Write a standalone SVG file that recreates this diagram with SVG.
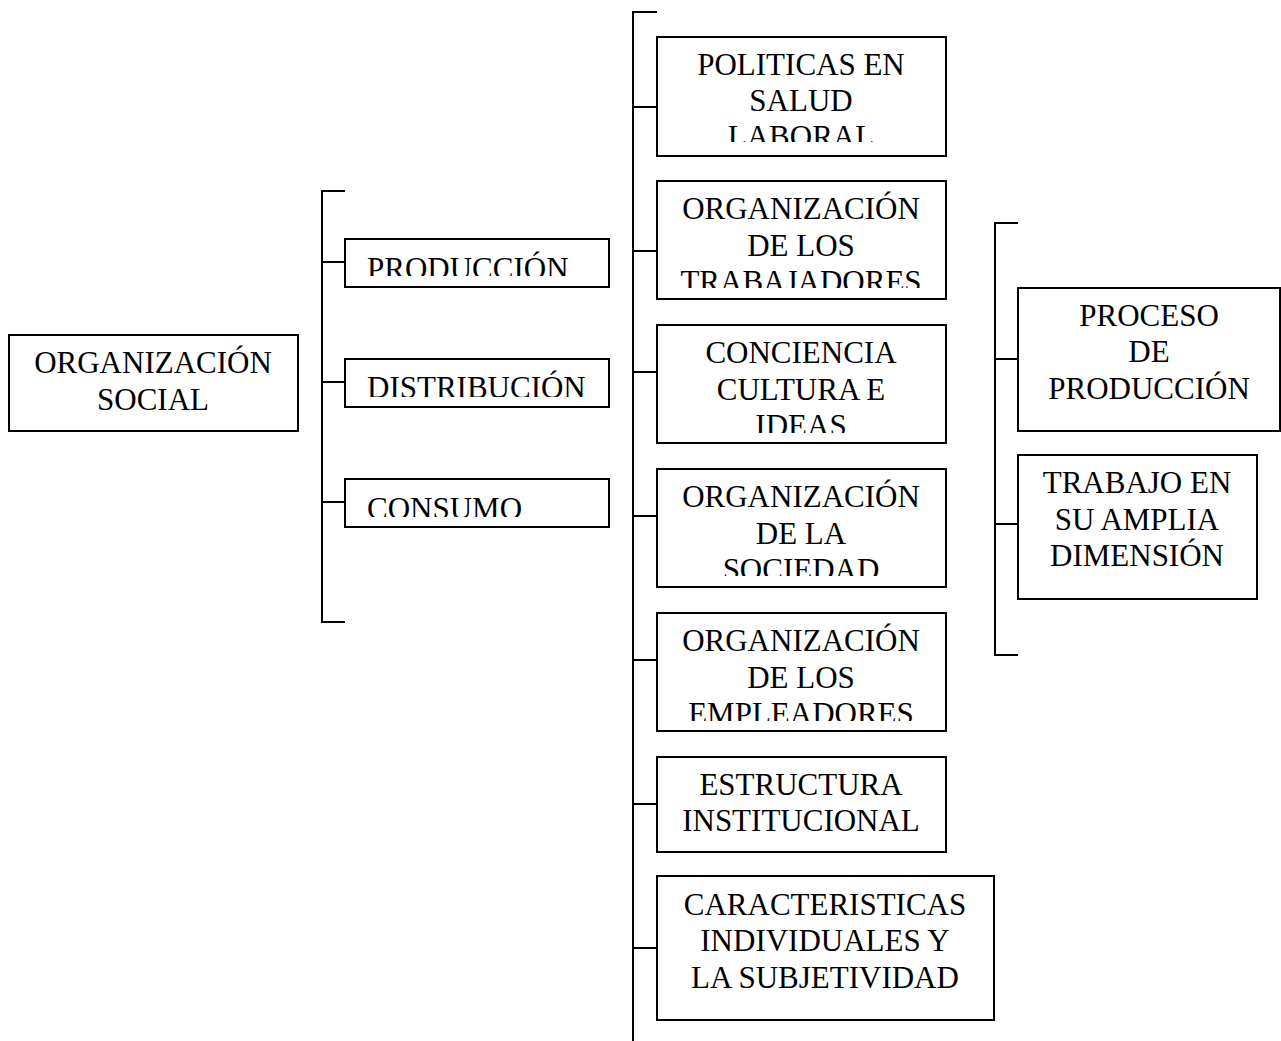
<svg xmlns="http://www.w3.org/2000/svg" width="1281" height="1041" viewBox="0 0 1281 1041">
<style>
.box{fill:#fff;stroke:#000;stroke-width:2}
.ln{fill:none;stroke:#000;stroke-width:2}
text{font-family:"Liberation Serif","Times New Roman",serif;font-size:31px;fill:#000}
.c{text-anchor:middle}
</style>
<defs>
<clipPath id="cp1"><rect x="657" y="37" width="289" height="105"/></clipPath>
<clipPath id="cp2"><rect x="657" y="181" width="289" height="107"/></clipPath>
<clipPath id="cp3"><rect x="657" y="325" width="289" height="108"/></clipPath>
<clipPath id="cp4"><rect x="657" y="469" width="289" height="107"/></clipPath>
<clipPath id="cp5"><rect x="657" y="613" width="289" height="108"/></clipPath>
<clipPath id="cpP"><rect x="345" y="239" width="264" height="37"/></clipPath>
<clipPath id="cpD"><rect x="345" y="359" width="264" height="38"/></clipPath>
<clipPath id="cpC"><rect x="345" y="479" width="264" height="38"/></clipPath>
</defs>
<rect width="1281" height="1041" fill="#fff"/>
<g id="connectors">
<path class="ln" d="M345 191H322V622H345M322 262H345M322 382H345M322 502H345"/>
<path class="ln" d="M657 12H633V1041M633 107H657M633 251H657M633 372H657M633 516H657M633 660H657M633 804H657M633 948H657"/>
<path class="ln" d="M1018 223H995V655H1018M995 359H1018M995 524H1018"/>
</g>
<g id="n-org-social">
<rect class="box" x="9" y="335" width="289" height="96"/>
<text class="c" x="153" y="373">ORGANIZACIÓN</text>
<text class="c" x="153" y="410">SOCIAL</text>
</g>
<g id="n-produccion">
<rect class="box" x="345" y="239" width="264" height="48"/>
<text x="367" y="279" clip-path="url(#cpP)">PRODUCCIÓN</text>
</g>
<g id="n-distribucion">
<rect class="box" x="345" y="359" width="264" height="48"/>
<text x="367" y="398" clip-path="url(#cpD)">DISTRIBUCIÓN</text>
</g>
<g id="n-consumo">
<rect class="box" x="345" y="479" width="264" height="48"/>
<text x="367" y="519" clip-path="url(#cpC)">CONSUMO</text>
</g>
<g id="n-politicas">
<rect class="box" x="657" y="37" width="289" height="119"/>
<g clip-path="url(#cp1)">
<text class="c" x="801" y="75">POLITICAS EN</text>
<text class="c" x="801" y="111">SALUD</text>
<text class="c" x="801" y="147">LABORAL</text>
</g>
</g>
<g id="n-org-trab">
<rect class="box" x="657" y="181" width="289" height="118"/>
<g clip-path="url(#cp2)">
<text class="c" x="801" y="219">ORGANIZACIÓN</text>
<text class="c" x="801" y="256">DE LOS</text>
<text class="c" x="801" y="292">TRABAJADORES</text>
</g>
</g>
<g id="n-conciencia">
<rect class="box" x="657" y="325" width="289" height="118"/>
<g clip-path="url(#cp3)">
<text class="c" x="801" y="363">CONCIENCIA</text>
<text class="c" x="801" y="400">CULTURA E</text>
<text class="c" x="801" y="436">IDEAS</text>
</g>
</g>
<g id="n-org-sociedad">
<rect class="box" x="657" y="469" width="289" height="118"/>
<g clip-path="url(#cp4)">
<text class="c" x="801" y="507">ORGANIZACIÓN</text>
<text class="c" x="801" y="544">DE LA</text>
<text class="c" x="801" y="580">SOCIEDAD</text>
</g>
</g>
<g id="n-org-empleadores">
<rect class="box" x="657" y="613" width="289" height="118"/>
<g clip-path="url(#cp5)">
<text class="c" x="801" y="651">ORGANIZACIÓN</text>
<text class="c" x="801" y="688">DE LOS</text>
<text class="c" x="801" y="724">EMPLEADORES</text>
</g>
</g>
<g id="n-estructura">
<rect class="box" x="657" y="757" width="289" height="95"/>
<text class="c" x="801" y="795">ESTRUCTURA</text>
<text class="c" x="801" y="831">INSTITUCIONAL</text>
</g>
<g id="n-caracteristicas">
<rect class="box" x="657" y="876" width="337" height="144"/>
<text class="c" x="825" y="915">CARACTERISTICAS</text>
<text class="c" x="825" y="951">INDIVIDUALES Y</text>
<text class="c" x="825" y="988">LA SUBJETIVIDAD</text>
</g>
<g id="n-proceso">
<rect class="box" x="1018" y="288" width="262" height="143"/>
<text class="c" x="1149" y="326">PROCESO</text>
<text class="c" x="1149" y="362">DE</text>
<text class="c" x="1149" y="399">PRODUCCIÓN</text>
</g>
<g id="n-trabajo">
<rect class="box" x="1018" y="455" width="239" height="144"/>
<text class="c" x="1137" y="493">TRABAJO EN</text>
<text class="c" x="1137" y="530">SU AMPLIA</text>
<text class="c" x="1137" y="566">DIMENSIÓN</text>
</g>
</svg>
